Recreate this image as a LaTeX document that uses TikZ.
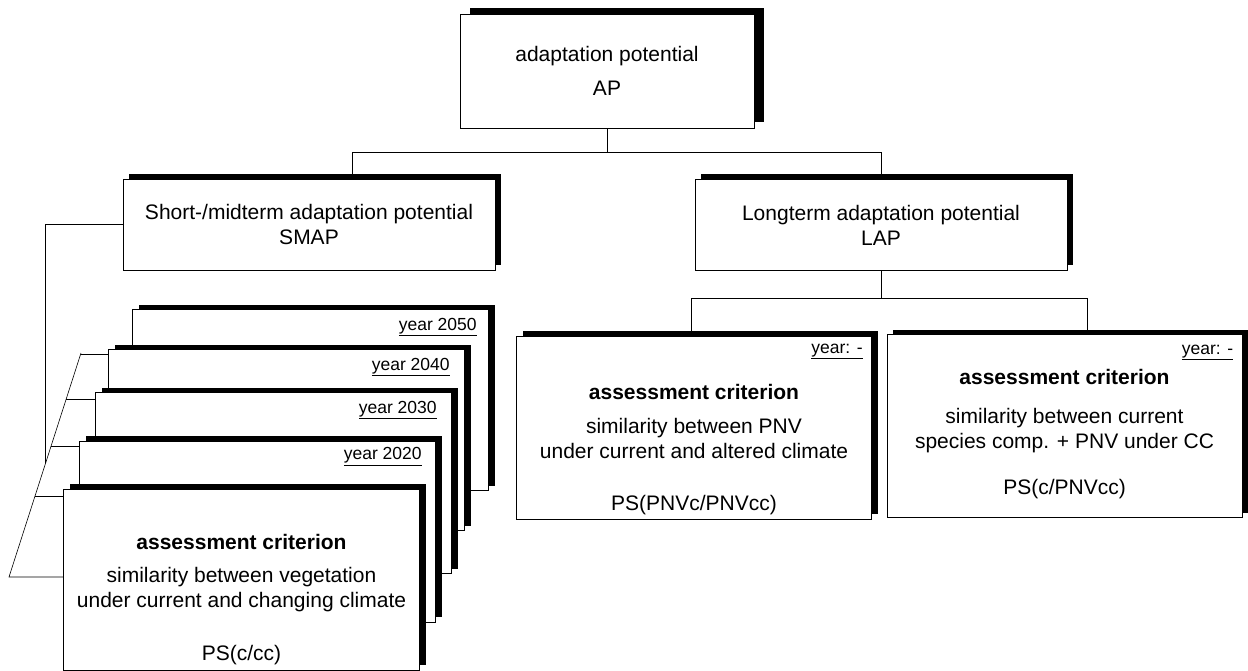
\documentclass[tikz,border=0pt]{standalone}
\usepackage{fontspec}
\setmainfont{Liberation Sans}
\usetikzlibrary{positioning,calc,shadows}
\tikzset{
  boxbase/.style={draw=black,fill=white,line width=0.7pt,inner sep=0pt,
    align=center,font=\fontsize{21}{25}\selectfont},
  shbox/.style={boxbase,drop shadow={shadow xshift=6pt,shadow yshift=5pt,
    opacity=1,fill=black}},
  topbox/.style={boxbase,drop shadow={shadow xshift=10pt,shadow yshift=6pt,
    opacity=1,fill=black}},
  potbox/.style={shbox,minimum width=372pt,minimum height=91pt},
  critbox/.style={shbox,minimum width=355pt,minimum height=183pt},
  stackbox/.style={shbox,minimum width=356pt,minimum height=181pt},
  yearlbl/.style={anchor=east,inner sep=0pt,font=\fontsize{17.5}{20}\selectfont},
  crittitle/.style={inner sep=0pt,font=\fontsize{21}{25}\selectfont\bfseries},
  crittxt/.style={inner sep=0pt,align=center,font=\fontsize{21}{25}\selectfont},
  conn/.style={line width=0.6pt,black},
}
\begin{document}
\begin{tikzpicture}[x=1pt,y=-1pt]
  \useasboundingbox (0,0) rectangle (1248,671);
  % upper levels
  \node[topbox,minimum width=294pt,minimum height=114pt] (ap) at (607,71)
    {adaptation potential\\[9pt]AP};
  \node[potbox] (smap) at (309,224.5) {Short-/midterm adaptation potential\\SMAP};
  \node[potbox] (lap) at (881,225) {Longterm adaptation potential\\LAP};
  % short-/midterm stack, back to front
  \node[stackbox] (y50) at (310.5,400) {};
  \node[yearlbl] at ([xshift=-12pt,yshift=-18pt]y50.north east) {\underline{year 2050}};
  \node[stackbox] (y40) at (286.5,440) {};
  \node[yearlbl] at ([xshift=-15pt,yshift=-18pt]y40.north east) {\underline{year 2040}};
  \node[stackbox] (y30) at (273.5,483) {};
  \node[yearlbl] at ([xshift=-15pt,yshift=-18pt]y30.north east) {\underline{year 2030}};
  \node[stackbox] (y20) at (257.5,531.5) {};
  \node[yearlbl] at ([xshift=-14pt,yshift=-16pt]y20.north east) {\underline{year 2020}};
  \node[stackbox] (front) at (241.5,579.5) {};
  \node[crittitle] at ([yshift=-53pt]front.north) {assessment criterion};
  \node[crittxt] at ([yshift=-101pt]front.north)
    {similarity between vegetation\\under current and changing climate};
  \node[crittxt] at ([yshift=-166pt]front.north) {PS(c/cc)};
  % longterm criteria
  \node[critbox] (pnv) at (694,427.5) {};
  \node[yearlbl] at ([xshift=-9pt,yshift=-16pt]pnv.north east) {\underline{year: -}};
  \node[crittitle] at ([yshift=-56pt]pnv.north) {assessment criterion};
  \node[crittxt] at ([yshift=-103pt]pnv.north)
    {similarity between PNV\\under current and altered climate};
  \node[crittxt] at ([yshift=-169pt]pnv.north) {PS(PNVc/PNVcc)};
  \node[critbox] (cur) at (1064.5,426) {};
  \node[yearlbl] at ([xshift=-9pt,yshift=-18pt]cur.north east) {\underline{year: -}};
  \node[crittitle] at ([yshift=-43pt]cur.north) {assessment criterion};
  \node[crittxt] at ([yshift=-96pt]cur.north)
    {similarity between current\\species comp. + PNV under CC};
  \node[crittxt] at ([yshift=-155pt]cur.north) {PS(c/PNVcc)};
  % tree connectors
  \coordinate (apj) at ($(ap.south)+(0,24)$);
  \draw[conn] (ap.south) -- (apj);
  \draw[conn] ([xshift=43pt]smap.north) |- (apj) -| (lap.north);
  \coordinate (lapj) at ($(lap.south)+(0,27)$);
  \draw[conn] (lap.south) -- (lapj);
  \draw[conn] ([xshift=-3pt]pnv.north) |- (lapj) -| ([xshift=22.5pt]cur.north);
  % bracket for the years
  \coordinate (bt) at (81,353);
  \coordinate (bb) at (9,577);
  \draw[conn] (smap.west) -| ($(bt)!0.491!(bb)$);
  \draw[conn] (bt) -- (bb) -- (bb -| front.west);
  \foreach \bx/\t in {y40/0.004,y30/0.205,y20/0.415,front/0.638}
    \draw[conn] ($(bt)!\t!(bb)$) coordinate (tk) -- (tk -| \bx.west);
\end{tikzpicture}
\end{document}
